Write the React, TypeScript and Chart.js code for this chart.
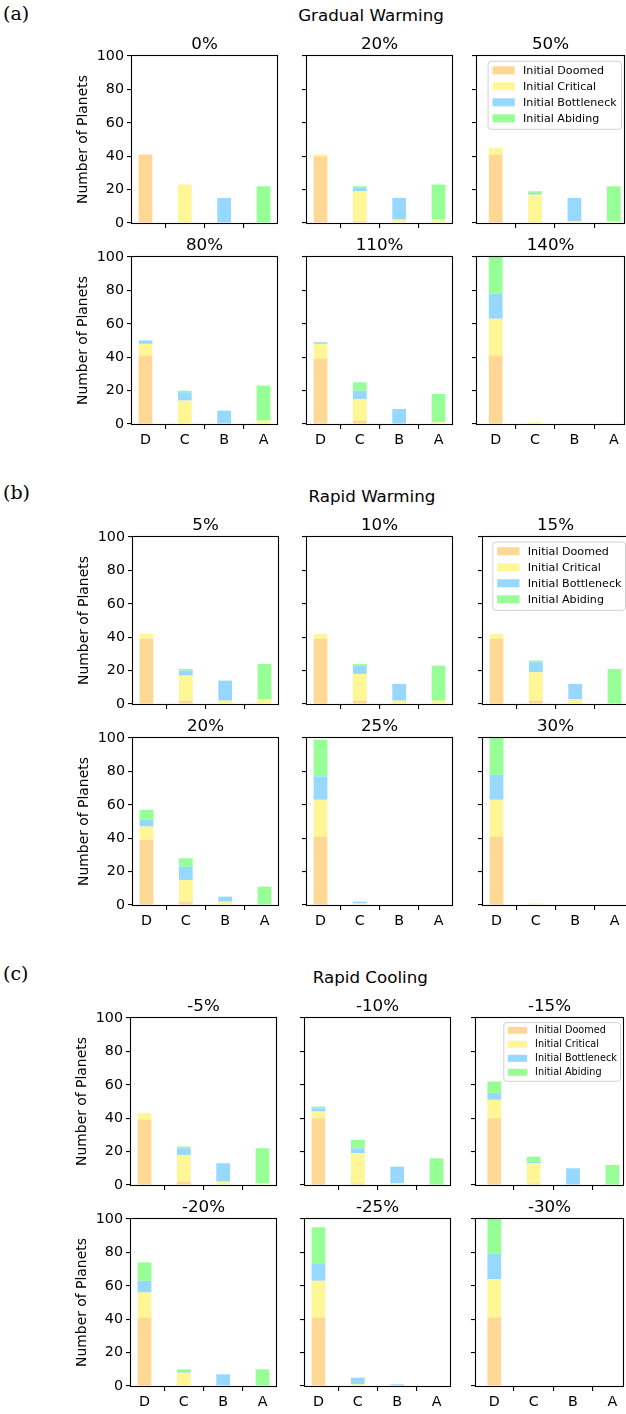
import React, { useEffect, useRef } from "react";
import { Chart, registerables } from "chart.js";

Chart.register(...registerables);

const FONT = '"DejaVu Sans", sans-serif';

// ---------- data ----------
const CATEGORIES = ["D", "C", "B", "A"];
const CATEGORY_POS = [0, 1, 2, 3];
const Y_TICKS = [0, 20, 40, 60, 80, 100];
const Y_LABEL = "Number of Planets";
const SERIES_LABELS = ["Initial Doomed", "Initial Critical", "Initial Bottleneck", "Initial Abiding"];
const SERIES_COLORS = ["rgb(255,216,150)", "rgb(255,246,150)", "rgb(150,216,255)", "rgb(150,255,150)"];

// Gradual Warming
const GW_TITLES = ["0%", "20%", "50%", "80%", "110%", "140%"];
const GW_DOOMED = [[41, 0, 0, 0], [40, 1, 0, 0], [41, 0, 0, 0], [41, 0, 0, 0], [39, 2, 0, 0], [41, 0, 0, 0]];
const GW_CRITICAL = [[0, 23, 0, 0], [1, 18, 2, 2], [4, 17, 1, 1], [7, 14, 0, 2], [9, 13, 0, 1], [22, 1, 0, 0]];
const GW_BOTTLENECK = [[0, 0, 15, 0], [0, 2, 13, 0], [0, 1, 14, 0], [2, 5, 8, 0], [1, 5, 9, 0], [15, 0, 0, 0]];
const GW_ABIDING = [[0, 0, 0, 22], [0, 1, 0, 21], [0, 1, 0, 21], [0, 1, 0, 21], [0, 5, 0, 17], [22, 0, 0, 0]];

// Rapid Warming
const RW_TITLES = ["5%", "10%", "15%", "20%", "25%", "30%"];
const RW_DOOMED = [[39, 2, 0, 0], [39, 2, 0, 0], [39, 2, 0, 0], [39, 2, 0, 0], [41, 0, 0, 0], [41, 0, 0, 0]];
const RW_CRITICAL = [[3, 15, 2, 3], [3, 16, 2, 2], [3, 17, 3, 0], [8, 13, 2, 0], [22, 1, 0, 0], [22, 1, 0, 0]];
const RW_BOTTLENECK = [[0, 3, 12, 0], [0, 5, 10, 0], [0, 6, 9, 0], [4, 8, 3, 0], [14, 1, 0, 0], [15, 0, 0, 0]];
const RW_ABIDING = [[0, 1, 0, 21], [0, 1, 0, 21], [0, 1, 0, 21], [6, 5, 0, 11], [22, 0, 0, 0], [22, 0, 0, 0]];

// Rapid Cooling
const RC_TITLES = ["-5%", "-10%", "-15%", "-20%", "-25%", "-30%"];
const RC_DOOMED = [[39, 2, 0, 0], [40, 1, 0, 0], [40, 1, 0, 0], [41, 0, 0, 0], [41, 0, 0, 0], [41, 0, 0, 0]];
const RC_CRITICAL = [[4, 16, 2, 1], [4, 18, 1, 0], [11, 12, 0, 0], [15, 8, 0, 0], [22, 1, 0, 0], [23, 0, 0, 0]];
const RC_BOTTLENECK = [[0, 4, 11, 0], [2, 3, 10, 0], [4, 1, 10, 0], [7, 1, 7, 0], [10, 4, 1, 0], [15, 0, 0, 0]];
const RC_ABIDING = [[0, 1, 0, 21], [1, 5, 0, 16], [7, 3, 0, 12], [11, 1, 0, 10], [22, 0, 0, 0], [22, 0, 0, 0]];

// ---------- layout ----------
const PAD_L = 60;
const PAD_T = 30;
const PAD_R = 4;
const PAD_B = 28;
const PLOT_H = 167;
const BAR_FRACTION = 0.35;
const TICK_SIZE = 14.3;
const TITLE_SIZE = 16.7;

type LegendSpec = {
  right: number; top: number; width: number; height: number;
  firstRow: number; rowH: number; swatchX: number; swatchW: number; swatchH: number;
  textX: number; fontSize: number;
};

const LEGEND_A: LegendSpec = { right: 2.5, top: 5.3, width: 133.4, height: 68, firstRow: 9, rowH: 16, swatchX: 4.4, swatchW: 22.3, swatchH: 8, textX: 35, fontSize: 11.1 };
const LEGEND_B: LegendSpec = { right: 2.5, top: 5, width: 132.7, height: 68.3, firstRow: 9.3, rowH: 16, swatchX: 4.4, swatchW: 22.3, swatchH: 8, textX: 35, fontSize: 11.1 };
const LEGEND_C: LegendSpec = { right: 2.5, top: 4.6, width: 116.7, height: 58.7, firstRow: 7.7, rowH: 14, swatchX: 4, swatchW: 19.3, swatchH: 7, textX: 31.3, fontSize: 9.7 };

const GROUPS = [
  {
    tag: "(a)", name: "Gradual Warming", tagY: 13, nameY: 15, nameX: 371,
    rows: [56, 257], cols: [132, 307, 477], widths: [145, 145, 147],
    xr: [[-0.3425, 3.3425], [-0.3425, 3.3425], [-0.475, 3.26]],
    titles: GW_TITLES, series: [GW_DOOMED, GW_CRITICAL, GW_BOTTLENECK, GW_ABIDING], legend: LEGEND_A,
  },
  {
    tag: "(b)", name: "Rapid Warming", tagY: 492.3, nameY: 495.7, nameX: 372,
    rows: [537, 738], cols: [133, 307, 483], widths: [145, 145, 145],
    xr: [[-0.3425, 3.3425], [-0.3425, 3.3425], [-0.3425, 3.3425]],
    titles: RW_TITLES, series: [RW_DOOMED, RW_CRITICAL, RW_BOTTLENECK, RW_ABIDING], legend: LEGEND_B,
  },
  {
    tag: "(c)", name: "Rapid Cooling", tagY: 972.7, nameY: 976.7, nameX: 370.3,
    rows: [1018, 1219], cols: [131, 305, 476], widths: [145, 145, 147],
    xr: [[-0.3425, 3.3425], [-0.3425, 3.3425], [-0.465, 3.27]],
    titles: RC_TITLES, series: [RC_DOOMED, RC_CRITICAL, RC_BOTTLENECK, RC_ABIDING], legend: LEGEND_C,
  },
];

// ---------- plugins ----------
const framePlugin = {
  id: "frame",
  afterDatasetsDraw(chart: any) {
    const { ctx, chartArea: a } = chart;
    ctx.save();
    ctx.strokeStyle = "#000";
    ctx.lineWidth = 1.1;
    ctx.strokeRect(a.left - 0.5, a.top - 0.5, a.right - a.left + 1, a.bottom - a.top + 1);
    ctx.restore();
  },
};

const panelTitlePlugin = {
  id: "panelTitle",
  afterDraw(chart: any, _args: any, opts: any) {
    if (!opts || !opts.text) return;
    const { ctx, chartArea: a } = chart;
    ctx.save();
    ctx.font = `${TITLE_SIZE}px ${FONT}`;
    ctx.fillStyle = "#000";
    ctx.textAlign = "center";
    ctx.textBaseline = "alphabetic";
    ctx.fillText(opts.text, (a.left + a.right) / 2, a.top - 7.4);
    ctx.restore();
  },
};

const insetLegendPlugin = {
  id: "insetLegend",
  afterDraw(chart: any, _args: any, opts: any) {
    if (!opts || !opts.show) return;
    const L: LegendSpec = opts.spec;
    const { ctx, chartArea: a } = chart;
    const x = a.right - L.right - L.width;
    const y = a.top + L.top;
    ctx.save();
    ctx.beginPath();
    const r = 3;
    ctx.moveTo(x + r, y);
    ctx.lineTo(x + L.width - r, y);
    ctx.quadraticCurveTo(x + L.width, y, x + L.width, y + r);
    ctx.lineTo(x + L.width, y + L.height - r);
    ctx.quadraticCurveTo(x + L.width, y + L.height, x + L.width - r, y + L.height);
    ctx.lineTo(x + r, y + L.height);
    ctx.quadraticCurveTo(x, y + L.height, x, y + L.height - r);
    ctx.lineTo(x, y + r);
    ctx.quadraticCurveTo(x, y, x + r, y);
    ctx.closePath();
    ctx.fillStyle = "rgba(255,255,255,0.8)";
    ctx.fill();
    ctx.strokeStyle = "#d0d0d0";
    ctx.lineWidth = 1;
    ctx.stroke();
    chart.data.datasets.forEach((ds: any, i: number) => {
      const cy = y + L.firstRow + i * L.rowH;
      ctx.fillStyle = ds.backgroundColor;
      ctx.fillRect(x + L.swatchX, cy - L.swatchH / 2, L.swatchW, L.swatchH);
      ctx.fillStyle = "#000";
      ctx.font = `${L.fontSize}px ${FONT}`;
      ctx.textAlign = "left";
      ctx.textBaseline = "middle";
      ctx.fillText(ds.label, x + L.textX, cy + 0.5);
    });
    ctx.restore();
  },
};

Chart.register(framePlugin, panelTitlePlugin, insetLegendPlugin);

type PanelSpec = {
  title: string; left: number; top: number; width: number; height: number;
  xMin: number; xMax: number; showY: boolean; showXLabels: boolean;
  series: number[][]; legend: LegendSpec | null;
};

function Panel({ p }: { p: PanelSpec }) {
  const ref = useRef<HTMLCanvasElement | null>(null);
  const cw = p.width + PAD_L + PAD_R;
  const ch = p.height + PAD_T + PAD_B;
  useEffect(() => {
    const c = ref.current;
    if (!c) return;
    const gridOpts = { display: true, drawOnChartArea: false, drawTicks: true, tickLength: 5, color: "#000", lineWidth: 1.1 };
    const chart = new Chart(c, {
      type: "bar",
      data: {
        datasets: p.series.map((vals, i) => ({
          label: SERIES_LABELS[i],
          data: vals.map((v, j) => ({ x: CATEGORY_POS[j], y: v })),
          backgroundColor: SERIES_COLORS[i],
          borderWidth: 0,
          categoryPercentage: 1,
          barPercentage: BAR_FRACTION,
        })),
      },
      options: {
        responsive: false,
        animation: false,
        devicePixelRatio: 1,
        layout: { padding: { left: 0, right: PAD_R, top: PAD_T, bottom: 0 } },
        plugins: {
          legend: { display: false },
          tooltip: { enabled: false },
          title: { display: false },
          panelTitle: { text: p.title },
          insetLegend: { show: !!p.legend, spec: p.legend },
        } as any,
        scales: {
          x: {
            type: "linear", min: p.xMin, max: p.xMax, stacked: true, offset: false,
            afterBuildTicks: (s: any) => { s.ticks = CATEGORY_POS.map((v) => ({ value: v })); },
            afterFit: (s: any) => { s.height = PAD_B; },
            grid: gridOpts, border: { display: false },
            ticks: {
              display: p.showXLabels, autoSkip: false, maxRotation: 0, minRotation: 0, padding: 3,
              color: "#000", font: { family: FONT, size: TICK_SIZE },
              callback: (v: any) => CATEGORIES[Math.round(Number(v))] ?? "",
            },
          },
          y: {
            type: "linear", min: 0, max: 100, stacked: true,
            afterBuildTicks: (s: any) => { s.ticks = Y_TICKS.map((v) => ({ value: v })); },
            afterFit: (s: any) => { s.width = PAD_L; },
            grid: gridOpts, border: { display: false },
            ticks: { display: p.showY, padding: 3, color: "#000", font: { family: FONT, size: TICK_SIZE } },
            title: { display: p.showY, text: Y_LABEL, color: "#000", font: { family: FONT, size: 13.9 }, padding: { top: 3, bottom: 0 } },
          },
        } as any,
      },
    });
    return () => chart.destroy();
  }, []);
  return (
    <canvas
      ref={ref}
      width={cw}
      height={ch}
      style={{ position: "absolute", left: p.left - PAD_L, top: p.top - PAD_T, width: cw, height: ch, display: "block" }}
    />
  );
}

export default function App() {
  const panels: { key: string; p: PanelSpec }[] = [];
  GROUPS.forEach((g, gi) => {
    for (let r = 0; r < 2; r++) {
      for (let c = 0; c < 3; c++) {
        const k = r * 3 + c;
        panels.push({
          key: `${gi}-${k}`,
          p: {
            title: g.titles[k],
            left: g.cols[c], top: g.rows[r], width: g.widths[c], height: PLOT_H,
            xMin: g.xr[c][0], xMax: g.xr[c][1],
            showY: c === 0, showXLabels: r === 1,
            series: g.series.map((s) => s[k]),
            legend: r === 0 && c === 2 ? g.legend : null,
          },
        });
      }
    }
  });
  return (
    <div style={{ position: "absolute", left: 0, top: 0, width: 626, height: 1414, overflow: "hidden", background: "#fff" }}>
      {GROUPS.map((g) => (
        <React.Fragment key={g.tag}>
          <div style={{ position: "absolute", left: 3, top: g.tagY, transform: "translateY(-50%)", fontFamily: '"DejaVu Serif", serif', fontSize: 19, lineHeight: "19px", color: "#000", whiteSpace: "nowrap" }}>{g.tag}</div>
          <div style={{ position: "absolute", left: g.nameX, top: g.nameY, transform: "translate(-50%, -50%)", fontFamily: FONT, fontSize: TITLE_SIZE, lineHeight: `${TITLE_SIZE}px`, color: "#000", whiteSpace: "nowrap" }}>{g.name}</div>
        </React.Fragment>
      ))}
      {panels.map(({ key, p }) => <Panel key={key} p={p} />)}
    </div>
  );
}
